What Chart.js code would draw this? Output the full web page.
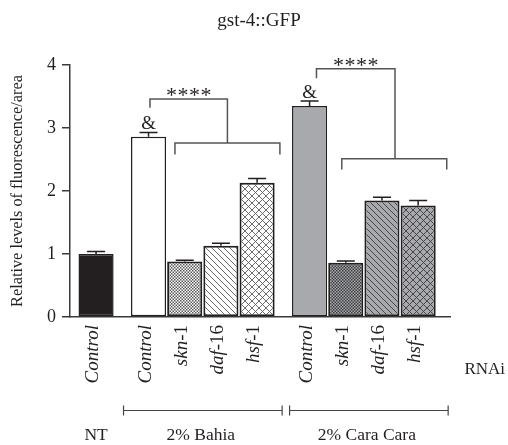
<!DOCTYPE html>
<html>
<head>
<meta charset="utf-8">
<script src="https://cdn.jsdelivr.net/npm/chart.js@4.4.1/dist/chart.umd.min.js"></script>
<style>
  html, body { margin: 0; padding: 0; background: #fff; }
  #c { display: block; }
</style>
</head>
<body>
<canvas id="c" width="508" height="445"></canvas>
<script>
// ---- Data ----
const title = 'gst-4::GFP';
const yAxisTitle = 'Relative levels of fluorescence/area';
const groupLabels = ['NT', '2% Bahia', '2% Cara Cara'];
// categories: [italic part, roman part]
const categoryItalic = ['Control', 'Control', 'skn', 'daf', 'hsf', 'Control', 'skn', 'daf', 'hsf'];
const categoryRoman  = ['',        '',        '-1',  '-16', '-1',  '',        '-1',  '-16', '-1'];
const groupOf = [0, 1, 1, 1, 1, 2, 2, 2, 2];
const values = [1.00, 2.86, 0.88, 1.13, 2.13, 3.35, 0.86, 1.85, 1.77];
const errors = [0.04, 0.07, 0.02, 0.04, 0.07, 0.08, 0.03, 0.05, 0.08];
const fillKind = ['solid', 'plain', 'dots', 'diag', 'cross', 'plain', 'dots', 'diag', 'cross'];
const yTicks = [0, 1, 2, 3, 4];
const ampersandOn = [1, 5];
const stars = '****';
const rnaiLabel = 'RNAi';

// ---- Layout helpers (not data) ----
const groupGap = 0.45;
const xPos = values.map((v, i) => i + groupGap * groupOf[i]);

const INK = '#231f20';
const AXIS = '#3a3a3a';
const GRAY = '#a7a9ac';
const SERIF = '"Liberation Serif", "DejaVu Serif", serif';

function makePattern(kind, bg, fg) {
  const c = document.createElement('canvas');
  const ctx = c.getContext('2d');
  if (kind === 'dots') {
    c.width = 3; c.height = 3;
    ctx.fillStyle = bg; ctx.fillRect(0, 0, 3, 3);
    ctx.fillStyle = fg;
    ctx.fillRect(0, 0, 1.5, 1.5);
    ctx.fillRect(1.5, 1.5, 1.5, 1.5);
  } else if (kind === 'diag') {
    const s = 6;
    c.width = s; c.height = s;
    ctx.fillStyle = bg; ctx.fillRect(0, 0, s, s);
    ctx.strokeStyle = fg; ctx.lineWidth = 0.9;
    ctx.beginPath();
    ctx.moveTo(-1, -1); ctx.lineTo(s + 1, s + 1);
    ctx.moveTo(-1, s - 1); ctx.lineTo(1, s + 1);
    ctx.moveTo(s - 1, -1); ctx.lineTo(s + 1, 1);
    ctx.stroke();
  } else if (kind === 'cross') {
    const s = 7;
    c.width = s; c.height = s;
    ctx.fillStyle = bg; ctx.fillRect(0, 0, s, s);
    ctx.strokeStyle = fg; ctx.lineWidth = 0.9;
    ctx.beginPath();
    ctx.moveTo(-1, -1); ctx.lineTo(s + 1, s + 1);
    ctx.moveTo(s + 1, -1); ctx.lineTo(-1, s + 1);
    ctx.stroke();
  }
  return document.getElementById('c').getContext('2d').createPattern(c, 'repeat');
}

const fills = fillKind.map((k, i) => {
  const bg = groupOf[i] === 2 ? GRAY : '#ffffff';
  const fg = groupOf[i] === 2 ? '#3c3c3e' : '#5a5a5a';
  if (k === 'solid') return INK;
  if (k === 'plain') return bg;
  return makePattern(k, bg, fg);
});
const borderWidths = fillKind.map(k => (k === 'solid' || k === 'plain') ? 1.5 : 2);

// significance brackets (annotation, in data units)
const brackets = [
  { upX1: 1.49, upX2: 3.63, upY: 3.46, upYEnd: 3.32, lowX1: 2.18, lowX2: 5.08, lowY: 2.76, lowYEnd: 2.58 },
  { upX1: 6.09, upX2: 8.26, upY: 3.94, upYEnd: 3.79, lowX1: 6.79, lowX2: 9.69, lowY: 2.51, lowYEnd: 2.34 }
];

const extras = {
  id: 'extras',
  afterDatasetsDraw(chart) {
    const ctx = chart.ctx;
    const xs = chart.scales.x, ys = chart.scales.y;
    ctx.save();
    // error bars
    ctx.strokeStyle = INK; ctx.lineWidth = 1.5;
    values.forEach((v, i) => {
      const x = xs.getPixelForValue(xPos[i]);
      const y0 = ys.getPixelForValue(v);
      const y1 = ys.getPixelForValue(v + errors[i]);
      ctx.beginPath();
      ctx.moveTo(x, y0); ctx.lineTo(x, y1);
      ctx.moveTo(x - 9, y1); ctx.lineTo(x + 9, y1);
      ctx.stroke();
    });
    // ampersands
    ctx.fillStyle = INK;
    ctx.font = '19px ' + SERIF;
    ctx.textAlign = 'center'; ctx.textBaseline = 'alphabetic';
    ampersandOn.forEach(i => {
      const x = xs.getPixelForValue(xPos[i]);
      const y = ys.getPixelForValue(values[i] + errors[i]);
      ctx.fillText('&', x, y - 3);
    });
    // brackets
    ctx.strokeStyle = '#555'; ctx.lineWidth = 1.5;
    brackets.forEach(b => {
      const ux1 = xs.getPixelForValue(b.upX1), ux2 = xs.getPixelForValue(b.upX2);
      const uy = ys.getPixelForValue(b.upY), uye = ys.getPixelForValue(b.upYEnd);
      const ly = ys.getPixelForValue(b.lowY), lye = ys.getPixelForValue(b.lowYEnd);
      const lx1 = xs.getPixelForValue(b.lowX1), lx2 = xs.getPixelForValue(b.lowX2);
      ctx.beginPath();
      ctx.moveTo(ux1, uye); ctx.lineTo(ux1, uy); ctx.lineTo(ux2, uy); ctx.lineTo(ux2, ly);
      ctx.moveTo(lx1, lye); ctx.lineTo(lx1, ly); ctx.lineTo(lx2, ly); ctx.lineTo(lx2, lye);
      ctx.stroke();
      // stars: draw each asterisk evenly spaced, centred above the bracket
      ctx.fillStyle = INK;
      ctx.font = '22px ' + SERIF;
      ctx.textAlign = 'center';
      ctx.textBaseline = 'alphabetic';
      const cx = (ux1 + ux2) / 2;
      const n = stars.length, step = 11.5;
      for (let k = 0; k < n; k++) {
        ctx.fillText(stars[k], cx + (k - (n - 1) / 2) * step, uy + 3);
      }
    });
    ctx.restore();
  },
  afterDraw(chart) {
    const ctx = chart.ctx;
    const xs = chart.scales.x, ys = chart.scales.y;
    const area = chart.chartArea;
    ctx.save();
    ctx.fillStyle = INK;
    // title
    ctx.font = '19px ' + SERIF;
    ctx.textAlign = 'center'; ctx.textBaseline = 'middle';
    ctx.fillText(title, 259, 21);
    // y axis title
    ctx.save();
    ctx.translate(18, (area.top + area.bottom) / 2);
    ctx.rotate(-Math.PI / 2);
    ctx.font = '16.3px ' + SERIF;
    ctx.textAlign = 'center'; ctx.textBaseline = 'middle';
    ctx.fillText(yAxisTitle, 0, 0);
    ctx.restore();
    // x category labels (rotated, italic + roman parts)
    const labTop = area.bottom + 8;
    categoryItalic.forEach((it, i) => {
      const x = xs.getPixelForValue(xPos[i]) - 3;
      ctx.save();
      ctx.translate(x, labTop);
      ctx.rotate(-Math.PI / 2);
      ctx.textBaseline = 'middle';
      ctx.textAlign = 'left';
      const fi = 'italic 19px ' + SERIF, fr = '19px ' + SERIF;
      ctx.font = fi; const wi = ctx.measureText(it).width;
      ctx.font = fr; const wr = ctx.measureText(categoryRoman[i]).width;
      const start = -(wi + wr);
      ctx.font = fi; ctx.fillText(it, start, 0);
      ctx.font = fr; ctx.fillText(categoryRoman[i], start + wi, 0);
      ctx.restore();
    });
    // RNAi
    ctx.font = '17px ' + SERIF;
    ctx.textAlign = 'right'; ctx.textBaseline = 'middle';
    ctx.fillText(rnaiLabel, 505, 370);
    // group lines and labels
    const lineY = 410.5;
    ctx.strokeStyle = '#444'; ctx.lineWidth = 1.2;
    const groupRange = g => {
      const idx = groupOf.map((gg, i) => gg === g ? i : -1).filter(i => i >= 0);
      return [xPos[idx[0]], xPos[idx[idx.length - 1]]];
    };
    groupLabels.forEach((lab, g) => {
      const [a, b] = groupRange(g);
      let cx = (xs.getPixelForValue(a) + xs.getPixelForValue(b)) / 2;
      if (g > 0) {
        const l = xs.getPixelForValue(a) - (g === 1 ? 25 : 20);
        const r = xs.getPixelForValue(b) + (g === 1 ? 25 : 30);
        ctx.beginPath();
        ctx.moveTo(l, lineY); ctx.lineTo(r, lineY);
        ctx.moveTo(l, lineY - 5); ctx.lineTo(l, lineY + 5);
        ctx.moveTo(r, lineY - 5); ctx.lineTo(r, lineY + 5);
        ctx.stroke();
        cx = (l + r) / 2 - 2;
      }
      ctx.font = '17.5px ' + SERIF;
      ctx.textAlign = 'center'; ctx.textBaseline = 'middle';
      ctx.fillText(lab, cx, 435);
    });
    ctx.restore();
  }
};

new Chart(document.getElementById('c'), {
  type: 'bar',
  data: {
    datasets: [{
      data: values.map((v, i) => ({ x: xPos[i], y: v })),
      backgroundColor: fills,
      borderColor: INK,
      borderWidth: borderWidths,
      borderSkipped: false,
      barPercentage: 0.97,
      categoryPercentage: 1
    }]
  },
  options: {
    responsive: false,
    animation: false,
    devicePixelRatio: 1,
    layout: { padding: { top: 65, right: 58, left: 0, bottom: 0 } },
    plugins: { legend: { display: false }, tooltip: { enabled: false }, title: { display: false } },
    scales: {
      x: {
        type: 'linear',
        offset: false,
        min: -0.72,
        max: 9.78,
        ticks: { display: false },
        grid: { display: false },
        border: { display: true, color: AXIS, width: 1.5 },
        afterFit: s => { s.height = 128; }
      },
      y: {
        min: 0,
        max: 4,
        afterBuildTicks: s => { s.ticks = yTicks.map(v => ({ value: v })); },
        ticks: { font: { family: SERIF, size: 18 }, color: INK, padding: 6 },
        grid: { drawOnChartArea: false, drawTicks: true, tickLength: 8, color: AXIS, lineWidth: 1.5 },
        border: { display: true, color: AXIS, width: 1.5 },
        afterFit: s => { s.width = 70; }
      }
    }
  },
  plugins: [extras]
});
</script>
</body>
</html>
